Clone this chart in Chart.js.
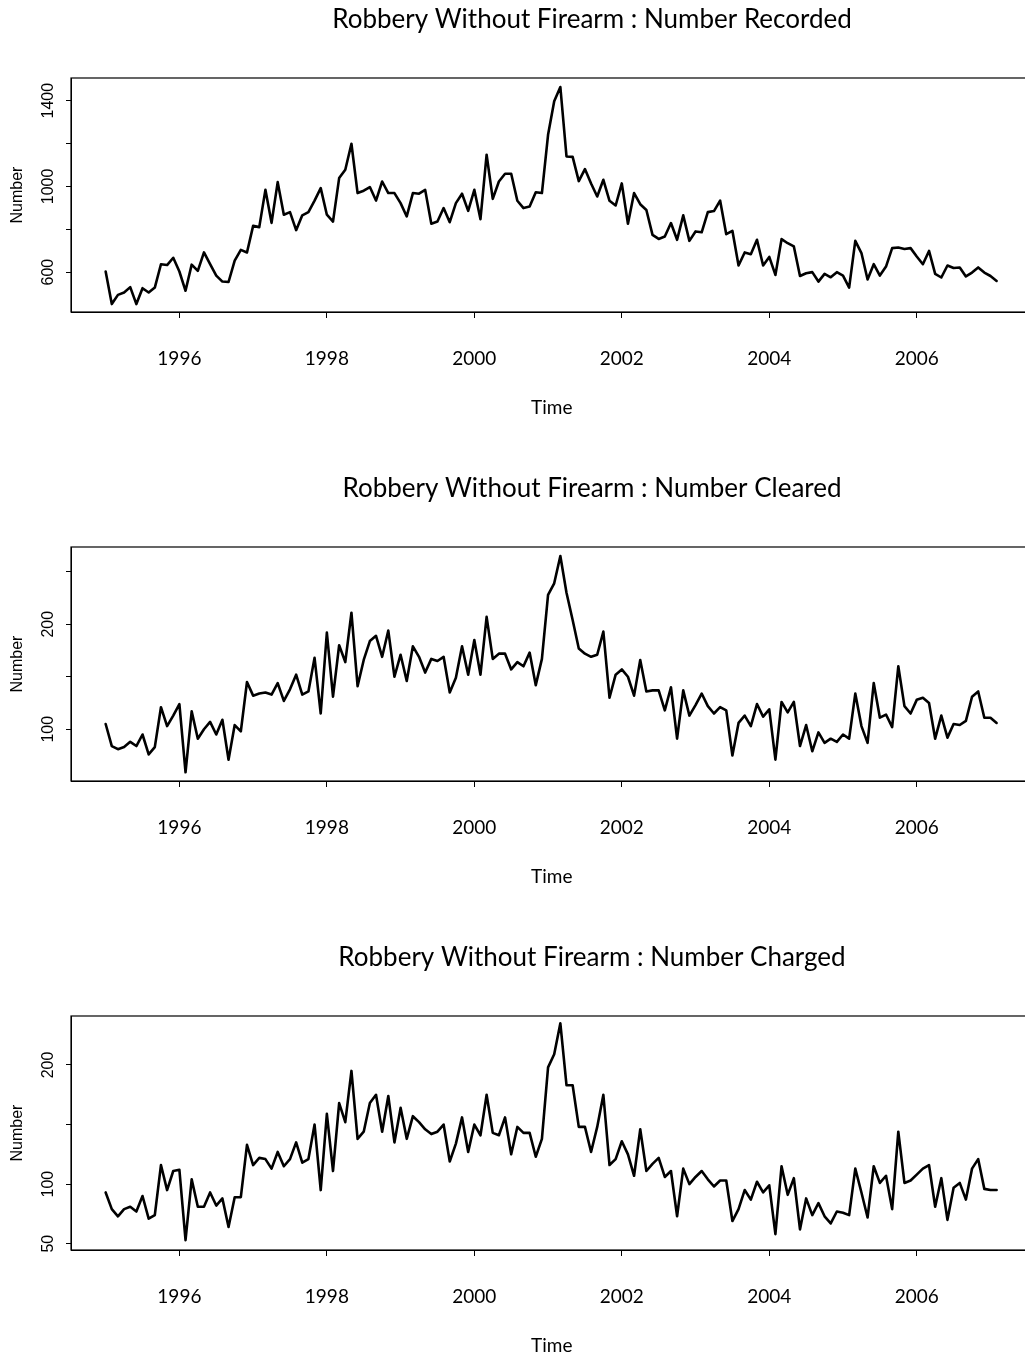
<!DOCTYPE html>
<html>
<head>
<meta charset="utf-8">
<title>Robbery Without Firearm</title>
<script src="https://cdn.jsdelivr.net/npm/chart.js@4"></script>
<style>
  html, body { margin: 0; padding: 0; background: #fff; }
  #page { position: relative; width: 1025px; height: 1357px; overflow: hidden; }
  #page canvas { position: absolute; left: 0; }
</style>
</head>
<body>
<div id="page">
  <canvas id="recorded" width="1040" height="469" style="top:0px"></canvas>
  <canvas id="cleared" width="1040" height="469" style="top:469px"></canvas>
  <canvas id="charged" width="1040" height="469" style="top:938px"></canvas>
</div>
<script>
// Monthly series, Jan 1995 .. Feb 2007
const startYear = 1995;

const recorded = [
  603, 451, 494, 505, 530, 451, 525, 505, 528, 637, 633, 667,
  603, 513, 635, 606, 692, 637, 584, 556, 554, 654, 704, 692,
  816, 810, 984, 830, 1020, 868, 880, 796, 865, 880, 934, 992,
  868, 836, 1039, 1078, 1199, 969, 980, 997, 934, 1023, 969, 969,
  922, 860, 969, 966, 984, 826, 836, 899, 833, 922, 966, 886,
  984, 847, 1148, 942, 1023, 1059, 1059, 933, 899, 906, 973, 969,
  1241, 1397, 1464, 1140, 1138, 1025, 1081, 1014, 953, 1031, 933, 911,
  1014, 826, 969, 917, 890, 774, 755, 766, 829, 751, 865, 746,
  790, 786, 880, 885, 934, 777, 793, 631, 692, 684, 751, 631,
  671, 587, 754, 735, 720, 582, 595, 600, 556, 592, 576, 600,
  584, 528, 746, 689, 566, 637, 584, 626, 712, 715, 708, 712,
  673, 637, 699, 592, 575, 631, 619, 622, 580, 598, 622, 598,
  582, 559
];

const cleared = [
  105, 84, 81, 83, 88, 84, 95, 76, 83, 121, 103, 113,
  124, 59, 117, 91, 100, 107, 95, 109, 71, 104, 98, 145,
  132, 134, 135, 133, 144, 127, 138, 152, 133, 136, 168, 115,
  192, 131, 180, 164, 211, 141, 166, 184, 189, 169, 194, 150,
  171, 146, 179, 169, 154, 167, 165, 169, 135, 149, 179, 152,
  185, 152, 207, 167, 172, 172, 157, 164, 160, 173, 142, 167,
  228, 239, 265, 230, 204, 177, 172, 169, 171, 193, 130, 152,
  157, 150, 132, 166, 136, 137, 137, 118, 140, 91, 137, 113,
  123, 134, 122, 115, 121, 118, 75, 106, 113, 103, 124, 112,
  119, 71, 126, 116, 126, 84, 104, 79, 97, 87, 91, 88,
  95, 91, 134, 103, 87, 144, 111, 114, 102, 160, 122, 115,
  128, 130, 125, 91, 113, 92, 105, 104, 108, 131, 136, 111,
  111, 106
];

const charged = [
  93, 79, 73, 79, 81, 77, 90, 71, 74, 116, 95, 111,
  112, 53, 104, 81, 81, 93, 82, 88, 64, 89, 89, 133,
  116, 122, 121, 113, 127, 115, 121, 135, 118, 121, 150, 95,
  159, 111, 168, 152, 195, 138, 144, 168, 175, 144, 174, 135,
  164, 138, 157, 152, 146, 142, 144, 150, 119, 134, 156, 127,
  150, 141, 175, 143, 141, 156, 125, 148, 143, 143, 123, 138,
  198, 209, 235, 183, 183, 148, 148, 127, 148, 175, 116, 121,
  136, 125, 107, 146, 111, 117, 122, 106, 111, 73, 113, 100,
  106, 111, 104, 98, 103, 103, 69, 79, 95, 87, 102, 93,
  99, 58, 115, 91, 105, 62, 88, 74, 84, 73, 67, 77,
  76, 74, 113, 93, 72, 115, 101, 107, 79, 144, 101, 103,
  108, 113, 116, 81, 105, 70, 97, 101, 87, 113, 121, 96,
  95, 95
];

// Axis ticks
const yearTicks = [1996, 1998, 2000, 2002, 2004, 2006];
const recordedTicks = [600, 800, 1000, 1200, 1400];
const recordedLabels = [600, 1000, 1400];
const clearedTicks = [100, 150, 200, 250];
const clearedLabels = [100, 200];
const chargedTicks = [50, 100, 150, 200];
const chargedLabels = [50, 100, 200];

const titleFont = 'Lato';
const tickFont = 'Liberation Sans';

// title above the panel, placed like the R figure title
const panelTitle = {
  id: 'panelTitle',
  afterDraw(chart, args, opts) {
    const ctx = chart.ctx;
    ctx.save();
    ctx.font = '26px ' + titleFont;
    ctx.fillStyle = '#000';
    ctx.textAlign = 'center';
    ctx.textBaseline = 'middle';
    ctx.fillText(opts.text, opts.x, opts.y);
    ctx.restore();
  }
};

// box round the plot region
const plotBox = {
  id: 'plotBox',
  afterDraw(chart) {
    const { ctx, chartArea } = chart;
    ctx.save();
    ctx.strokeStyle = '#000';
    ctx.lineWidth = 1.2;
    ctx.strokeRect(chartArea.left, chartArea.top,
      chartArea.right - chartArea.left, chartArea.bottom - chartArea.top);
    ctx.restore();
  }
};

const makePanel = (canvasId, title, values, yMin, yMax, yTicks, yLabels, yPad) => {
  const points = values.map((v, i) => ({ x: startYear + i / 12, y: v }));

  return new Chart(document.getElementById(canvasId), {
    type: 'line',
    data: {
      datasets: [{
        data: points,
        borderColor: '#000',
        borderWidth: 2.6,
        borderJoinStyle: 'round',
        borderCapStyle: 'round',
        pointRadius: 0,
        tension: 0,
        fill: false
      }]
    },
    options: {
      responsive: false,
      animation: false,
      devicePixelRatio: 1,
      layout: { padding: { top: 78, left: 0, right: 7.5, bottom: 0 } },
      plugins: {
        legend: { display: false },
        tooltip: { enabled: false },
        panelTitle: { text: title, x: 592, y: 20 }
      },
      scales: {
        x: {
          type: 'linear',
          min: 1994.53,
          max: 2007.57,
          afterBuildTicks: (scale) => { scale.ticks = yearTicks.map(v => ({ value: v })); },
          afterFit: (scale) => { scale.height = 157; },
          grid: { drawOnChartArea: false, drawTicks: true, tickLength: 6, color: '#000', lineWidth: 1 },
          border: { display: true, color: '#000', width: 1 },
          ticks: {
            autoSkip: false,
            maxRotation: 0,
            padding: 29,
            color: '#000',
            font: { family: titleFont, size: 19 },
            callback: (v) => String(v)
          },
          title: {
            display: true,
            text: 'Time',
            color: '#000',
            font: { family: titleFont, size: 19 },
            padding: { top: 0, bottom: 50 }
          }
        },
        y: {
          min: yMin,
          max: yMax,
          afterBuildTicks: (scale) => { scale.ticks = yTicks.map(v => ({ value: v })); },
          afterFit: (scale) => { scale.width = 71; },
          grid: { drawOnChartArea: false, drawTicks: true, tickLength: 5, color: '#000', lineWidth: 1 },
          border: { display: true, color: '#000', width: 1 },
          ticks: {
            autoSkip: false,
            minRotation: 90,
            maxRotation: 90,
            crossAlign: 'center',
            padding: yPad,
            color: '#000',
            font: { family: tickFont, size: 16 },
            callback: (v) => (yLabels.includes(v) ? String(v) : '')
          },
          title: {
            display: true,
            text: 'Number',
            color: '#000',
            font: { family: tickFont, size: 16 },
            padding: { top: 8, bottom: 0 }
          }
        }
      }
    },
    plugins: [panelTitle, plotBox]
  });
};

makePanel('recorded', 'Robbery Without Firearm : Number Recorded',
  recorded, 414, 1506, recordedTicks, recordedLabels, 0);
makePanel('cleared', 'Robbery Without Firearm : Number Cleared',
  cleared, 50.7, 273.6, clearedTicks, clearedLabels, 4.5);
makePanel('charged', 'Robbery Without Firearm : Number Charged',
  charged, 44.7, 241.1, chargedTicks, chargedLabels, 4.5);
</script>
</body>
</html>
